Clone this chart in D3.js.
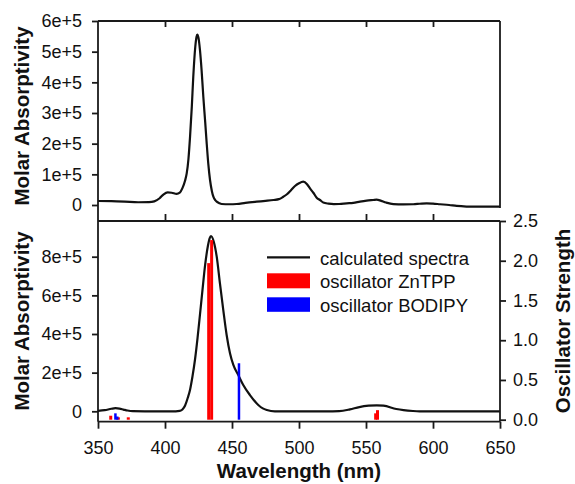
<!DOCTYPE html>
<html>
<head>
<meta charset="utf-8">
<script src="https://cdn.jsdelivr.net/npm/d3@7"></script>
<style>
  html, body { margin: 0; padding: 0; background: #fff; }
  svg { display: block; font-family: "Liberation Sans", Arial, sans-serif; }
</style>
</head>
<body>
<svg id="chart" width="575" height="484"></svg>
<script>
// ---------------- DATA ----------------
const xTicks = [350, 400, 450, 500, 550, 600, 650];
const topYTicks = [0, 100000, 200000, 300000, 400000, 500000, 600000];
const botYTicks = [0, 200000, 400000, 600000, 800000];
const oscTicks = [0, 0.5, 1.0, 1.5, 2.0, 2.5];

// Top panel: measured molar absorptivity
const expWavelength = [350, 360, 370, 380, 388, 392, 396, 399, 402, 405, 408.7, 411, 413, 415, 416.2, 417.5, 418.7, 420, 421.1, 422.6, 423.5, 424.1, 425, 426.1, 427.3, 428.6, 430, 431.1, 432.3, 433.6, 435, 436.1, 437.5, 438.6, 440.5, 442.3, 448, 453.5, 460, 468.4, 475, 481, 485, 488.3, 491, 494, 497, 500, 503.2, 506, 508.2, 510.7, 513.2, 515.7, 518.1, 522, 526, 530, 535.6, 540.5, 545.5, 550.5, 555.4, 558, 560.4, 565, 570.4, 578, 585.3, 590, 595.3, 600, 605.2, 612, 617.7, 625, 630, 640, 650];
const expAbs = [13000, 12500, 11000, 9000, 9500, 12000, 22000, 35000, 41000, 40000, 36000, 40000, 55000, 80000, 103000, 150000, 223000, 320000, 418000, 516000, 548000, 556000, 545000, 505000, 440000, 353000, 270000, 202000, 135000, 81500, 45000, 27000, 16000, 10800, 6000, 3300, 2500, 3300, 7000, 10800, 13500, 16300, 19000, 27000, 35000, 48000, 62000, 71000, 76000, 68000, 54000, 40000, 24000, 16300, 8000, 4500, 3000, 3300, 5500, 7000, 10800, 14000, 16300, 17500, 15000, 8000, 3000, 2000, 2500, 4000, 5500, 4500, 2500, 0, -3000, -5000, -5500, -5500, -5500];

// Bottom panel: calculated spectrum
const calcWavelength = [350, 355, 360, 363, 366, 369, 372, 376, 385, 400, 408, 411, 413, 415, 417, 418.7, 420.5, 422.4, 424.3, 426.1, 428, 430, 432, 433.3, 434.3, 436.5, 438.6, 441, 443.5, 446, 448.5, 451, 454.7, 458.4, 463.4, 469.6, 473, 476, 482, 500, 520, 530, 538, 545, 552, 558, 563, 572.6, 578, 585, 590, 650];
const calcAbs = [2000, 6000, 13000, 16000, 14000, 9000, 4000, 800, 0, 0, 0, 2000, 9000, 30000, 70000, 112000, 180000, 268000, 380000, 500000, 630000, 760000, 855000, 895000, 907000, 875000, 800000, 662000, 524000, 395000, 300000, 240000, 188000, 136000, 84000, 32600, 15000, 6700, 0, 0, 0, 1000, 10000, 22000, 29000, 31000, 29000, 12000, 6000, 1500, 0, 0];

// Oscillator strengths
const zntppWavelength = [359.5, 365.2, 372.6, 432.6, 434.8, 557.2, 558.6];
const zntppStrength = [0.05, 0.03, 0.03, 1.97, 2.26, 0.08, 0.12];
const bodipyWavelength = [363.0, 364.4, 455.2];
const bodipyStrength = [0.08, 0.04, 0.71];

const legendLabels = ["calculated spectra", "oscillator ZnTPP", "oscillator BODIPY"];

// ---------------- LAYOUT ----------------
const svg = d3.select("#chart");
const left = 98, right = 500;
const topT = 21, topB = 208;
const botT = 221, botB = 421.7;

const x = d3.scaleLinear().domain([350, 650]).range([left, right]);
const yTop = d3.scaleLinear().domain([0, 600000]).range([205, topT]);
const yBot = d3.scaleLinear().domain([0, 800000]).range([411.3, 256.7]);
const yOsc = d3.scaleLinear().domain([0, 2.5]).range([419.7, botT]);

const axisColor = "#1a1a1a";
const frameW = 1.8;
const tickFont = 18;

function styleAxis(g) {
  g.select(".domain").remove();
  g.selectAll(".tick line").attr("stroke", axisColor).attr("stroke-width", frameW);
  g.selectAll(".tick text").attr("fill", "#111").style("font-size", tickFont + "px")
    .style("font-family", '"Liberation Sans", Arial, sans-serif');
}

const sci = d => d === 0 ? "0" : (d / 1e5) + "e+5";

// ---------- Top panel ----------
svg.append("g").attr("transform", `translate(${left},0)`)
  .call(d3.axisLeft(yTop).tickValues(topYTicks).tickSize(6).tickPadding(10).tickFormat(sci))
  .call(styleAxis);

svg.append("g").attr("transform", `translate(0,${topT})`)
  .call(d3.axisTop(x).tickValues(xTicks.slice(1, -1)).tickSize(-6).tickFormat(""))
  .call(styleAxis);

const line = (xs, ys, yS) => d3.line()
  .x((d, i) => x(xs[i])).y((d, i) => yS(ys[i]))
  .curve(d3.curveMonotoneX)(xs);

svg.append("path").attr("d", line(expWavelength, expAbs, yTop))
  .attr("fill", "none").attr("stroke", "#111").attr("stroke-width", 2.2).attr("stroke-linejoin", "round");

// frame lines top panel
svg.append("line").attr("x1", left).attr("x2", right).attr("y1", topT).attr("y2", topT)
  .attr("stroke", axisColor).attr("stroke-width", frameW);
svg.append("line").attr("x1", right).attr("x2", right).attr("y1", topT).attr("y2", topB)
  .attr("stroke", axisColor).attr("stroke-width", frameW);
// continuous left line
svg.append("line").attr("x1", left).attr("x2", left).attr("y1", topT).attr("y2", botB)
  .attr("stroke", axisColor).attr("stroke-width", frameW);

// ---------- Bottom panel ----------
svg.append("g").attr("transform", `translate(${left},0)`)
  .call(d3.axisLeft(yBot).tickValues(botYTicks).tickSize(6).tickPadding(10).tickFormat(sci))
  .call(styleAxis);

svg.append("g").attr("transform", `translate(${right},0)`)
  .call(d3.axisRight(yOsc).tickValues(oscTicks).tickSize(6).tickPadding(7).tickFormat(d3.format(".1f")))
  .call(styleAxis);

svg.append("g").attr("transform", `translate(0,${botT})`)
  .call(d3.axisTop(x).tickValues(xTicks.slice(1, -1)).tickSize(7).tickFormat(""))
  .call(styleAxis);

svg.append("g").attr("transform", `translate(0,${botB})`)
  .call(d3.axisBottom(x).tickValues(xTicks).tickSize(7).tickPadding(13))
  .call(styleAxis);

svg.append("path").attr("d", line(calcWavelength, calcAbs, yBot))
  .attr("fill", "none").attr("stroke", "#111").attr("stroke-width", 2.2).attr("stroke-linejoin", "round");

// sticks
svg.append("g").selectAll("line").data(zntppWavelength).join("line")
  .attr("x1", d => x(d)).attr("x2", d => x(d))
  .attr("y1", yOsc(0)).attr("y2", (d, i) => yOsc(zntppStrength[i]))
  .attr("stroke", "#ff0000").attr("stroke-width", 3);
svg.append("g").selectAll("line").data(bodipyWavelength).join("line")
  .attr("x1", d => x(d)).attr("x2", d => x(d))
  .attr("y1", yOsc(0)).attr("y2", (d, i) => yOsc(bodipyStrength[i]))
  .attr("stroke", "#0000ff").attr("stroke-width", 2.5);

// frame bottom panel
[[left, right, botT, botT], [left, right, botB, botB], [right, right, botT, botB]].forEach(c => {
  svg.append("line").attr("x1", c[0]).attr("x2", c[1]).attr("y1", c[2]).attr("y2", c[3])
    .attr("stroke", axisColor).attr("stroke-width", frameW);
});

// ---------- Titles ----------
const titleFont = 20.5;
svg.append("text").attr("transform", `translate(28.5,116) rotate(-90)`)
  .attr("text-anchor", "middle").style("font-weight", "bold").style("font-size", titleFont + "px")
  .attr("fill", "#111").text("Molar Absorptivity");
svg.append("text").attr("transform", `translate(28.5,321) rotate(-90)`)
  .attr("text-anchor", "middle").style("font-weight", "bold").style("font-size", titleFont + "px")
  .attr("fill", "#111").text("Molar Absorptivity");
svg.append("text").attr("transform", `translate(570,321) rotate(-90)`)
  .attr("text-anchor", "middle").style("font-weight", "bold").style("font-size", titleFont + "px")
  .attr("fill", "#111").text("Oscillator Strength");
svg.append("text").attr("x", (left + right) / 2).attr("y", 478)
  .attr("text-anchor", "middle").style("font-weight", "bold").style("font-size", titleFont + "px")
  .attr("fill", "#111").text("Wavelength (nm)");

// ---------- Legend ----------
const lg = svg.append("g");
const lgX = 267, lgW = 43;
lg.append("line").attr("x1", lgX).attr("x2", lgX + lgW).attr("y1", 257.3).attr("y2", 257.3)
  .attr("stroke", "#111").attr("stroke-width", 2.2);
lg.append("rect").attr("x", lgX).attr("y", 273.3).attr("width", lgW).attr("height", 15).attr("fill", "#ff0000");
lg.append("rect").attr("x", lgX).attr("y", 297.3).attr("width", lgW).attr("height", 14.5).attr("fill", "#0000ff");
const lgBase = [264.5, 288, 311.5];
legendLabels.forEach((t, i) => {
  lg.append("text").attr("x", 320).attr("y", lgBase[i]).style("font-size", "18.5px")
    .attr("fill", "#111").text(t);
});
</script>
</body>
</html>
